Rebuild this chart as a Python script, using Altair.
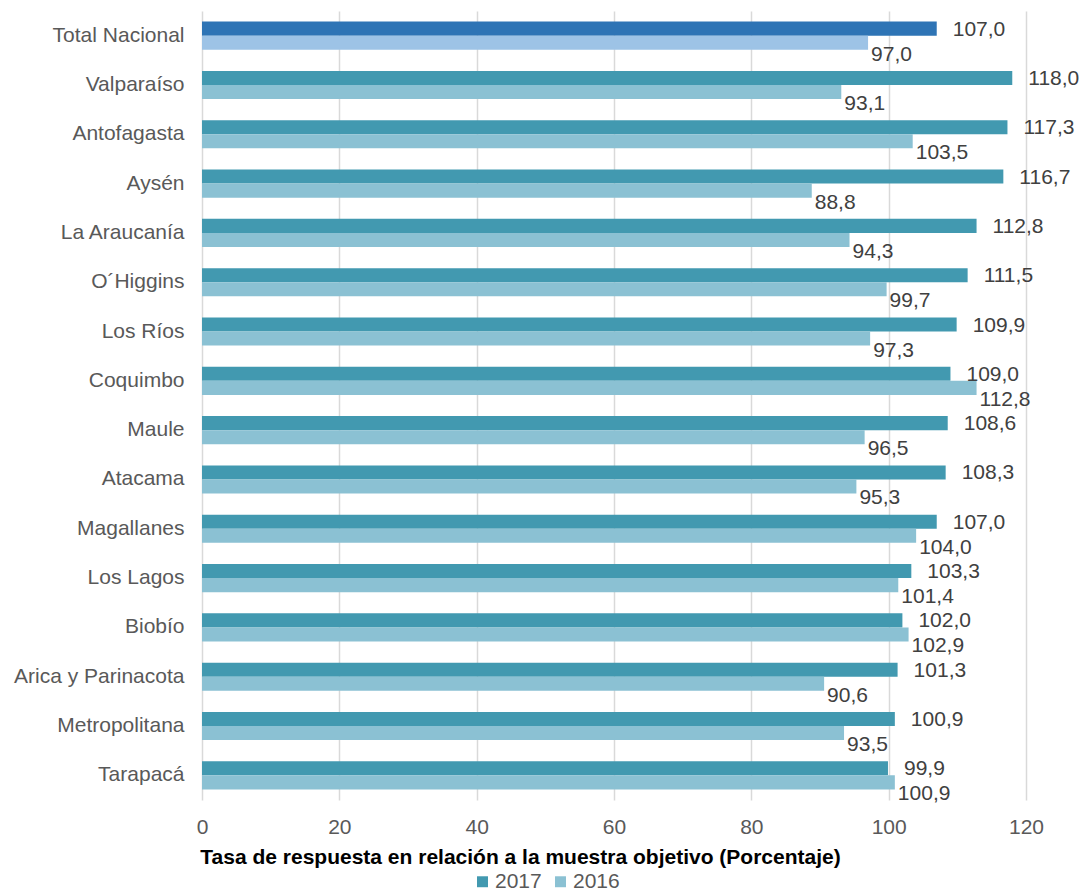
import altair as alt
import pandas as pd

regions = ["Total Nacional", "Valparaíso", "Antofagasta", "Aysén", "La Araucanía",
           "O´Higgins", "Los Ríos", "Coquimbo", "Maule", "Atacama", "Magallanes ",
           "Los Lagos", "Biobío", "Arica y Parinacota", "Metropolitana ", "Tarapacá"]
v2017 = [107.0, 118.0, 117.3, 116.7, 112.8, 111.5, 109.9, 109.0, 108.6, 108.3,
         107.0, 103.3, 102.0, 101.3, 100.9, 99.9]
v2016 = [97.0, 93.1, 103.5, 88.8, 94.3, 99.7, 97.3, 112.8, 96.5, 95.3,
         104.0, 101.4, 102.9, 90.6, 93.5, 100.9]
series = ["2017", "2016"]

rows = []
for i, r in enumerate(regions):
    for s, vals in zip(series, [v2017, v2016]):
        v = vals[i]
        rows.append({
            "region": r,
            "serie": s,
            "valor": v,
            "etiqueta": f"{v:.1f}".replace(".", ","),
            "clave": s + ("T" if i == 0 else ""),
        })
df = pd.DataFrame(rows)

FONT = "Liberation Sans"
FS = 21

y_enc = alt.Y("region:N", sort=regions, title=None,
              scale=alt.Scale(paddingInner=0.43, paddingOuter=0.215),
              axis=alt.Axis(domain=False, ticks=False, labelPadding=18,
                            labelFontSize=FS, labelColor="#595959", labelFont=FONT))
yoff = alt.YOffset("serie:N", sort=series)

bars = alt.Chart(df).mark_bar().encode(
    x=alt.X("valor:Q", scale=alt.Scale(domain=[0, 120]),
            axis=alt.Axis(values=[0, 20, 40, 60, 80, 100, 120], domain=False, ticks=False,
                          labelFlush=False, labelPadding=16, labelFontSize=FS,
                          labelColor="#595959", labelFont=FONT,
                          gridColor="#D9D9D9", gridWidth=1.5,
                          title="Tasa de respuesta en relación a la muestra objetivo (Porcentaje)",
                          titleFont=FONT, titleFontSize=FS, titleFontWeight="bold",
                          titleColor="#000000", titleX=318, titleY=57,
                          titleAlign="center", titleBaseline="middle")),
    y=y_enc,
    yOffset=yoff,
    color=alt.Color("clave:N",
                    scale=alt.Scale(domain=["2017", "2016", "2017T", "2016T"],
                                    range=["#4299B0", "#8BC1D3", "#2E74B5", "#9DC3E6"]),
                    legend=alt.Legend(values=["2017", "2016"], title=None, orient="none",
                                      legendX=270, legendY=860, direction="horizontal",
                                      symbolType="square", symbolSize=120,
                                      symbolStrokeWidth=0, labelFont=FONT,
                                      labelFontSize=FS, labelColor="#595959",
                                      columnPadding=8, labelOffset=2)),
)

t17 = alt.Chart(df).transform_filter(alt.datum.serie == "2017").mark_text(
    align="left", baseline="middle", dx=16, dy=1, fontSize=FS, font=FONT, color="#404040"
).encode(x="valor:Q", y=alt.Y("region:N", sort=regions), yOffset=yoff, text="etiqueta:N")

t16 = alt.Chart(df).transform_filter(alt.datum.serie == "2016").mark_text(
    align="left", baseline="middle", dx=3, dy=12, fontSize=FS, font=FONT, color="#404040"
).encode(x="valor:Q", y=alt.Y("region:N", sort=regions), yOffset=yoff, text="etiqueta:N")

chart = alt.layer(bars, t17, t16).properties(
    width=824, height=789,
    autosize=alt.AutoSizeParams(type="none"),
    padding={"left": 202, "top": 11, "right": 56, "bottom": 92},
).configure_view(stroke=None).configure_axis(labelFont=FONT)

chart.save("out.html", embed_options={"renderer": "svg", "actions": False})
